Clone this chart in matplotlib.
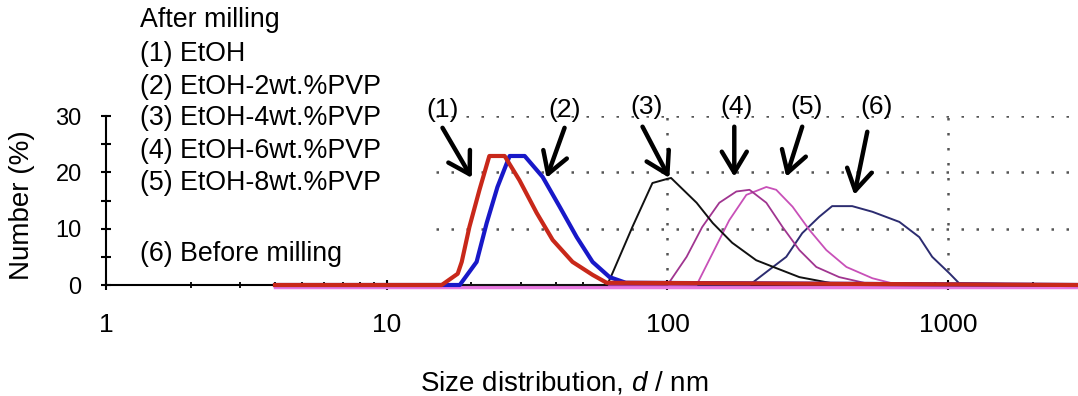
import matplotlib.pyplot as plt
from matplotlib.ticker import FixedLocator, LogLocator, NullFormatter

plt.rcParams['font.family'] = ['Liberation Sans', 'DejaVu Sans']
plt.rcParams['mathtext.fontset'] = 'custom'
plt.rcParams['mathtext.it'] = 'Liberation Sans:italic'
plt.rcParams['mathtext.rm'] = 'Liberation Sans'

# (1) EtOH
x1 = [4, 15.7, 17.9, 18.5, 19.7, 21.4, 23.2, 26.3, 29.7, 34.2, 39.0, 45.9, 54.1, 60.7, 2900]
y1 = [0, 0, 2.0, 4.1, 10.3, 16.9, 22.9, 22.9, 18.6, 12.8, 8.0, 4.1, 1.8, 0.4, 0]
# (2) EtOH-2wt.%PVP
x2 = [4, 18.2, 20.9, 22.7, 24.8, 27.4, 31.0, 35.9, 41.3, 47.5, 54.1, 62.2, 71, 2900]
y2 = [0, 0, 4.1, 11.0, 17.4, 22.9, 22.9, 19.2, 13.9, 8.5, 4.1, 1.4, 0.4, 0]
# (3) EtOH-4wt.%PVP
x3 = [4, 61, 63.7, 75, 88.4, 99.2, 103, 127, 145, 170, 207, 244, 295, 386, 2900]
y3 = [0, 0, 2.1, 10.3, 18.1, 18.8, 19.0, 14.6, 11.0, 7.5, 4.4, 3.0, 1.4, 0.3, 0]
# (4) EtOH-6wt.%PVP
x4 = [4, 100, 117, 133, 153, 176, 196, 225, 257, 295, 339, 409, 511, 2900]
y4 = [0, 0, 5.0, 10.3, 14.6, 16.6, 16.9, 14.6, 10.3, 6.2, 3.2, 1.4, 0.3, 0]
# (5) EtOH-8wt.%PVP
x5 = [4, 127, 145, 166, 191, 225, 244, 279, 320, 368, 434, 537, 632, 2900]
y5 = [0, 0, 5.7, 11.5, 16.0, 17.4, 16.9, 13.9, 9.8, 6.2, 3.2, 1.2, 0.3, 0]
# (6) Before milling
x6 = [4, 196, 225, 265, 302, 347, 386, 455, 537, 670, 789, 877, 1009, 1094, 2900]
y6 = [0, 0, 2.3, 5.0, 9.2, 12.1, 14.0, 14.0, 13.0, 11.2, 8.5, 5.0, 2.1, 0.3, 0]

legend_lines = ['After milling', '(1) EtOH', '(2) EtOH-2wt.%PVP', '(3) EtOH-4wt.%PVP',
                '(4) EtOH-6wt.%PVP', '(5) EtOH-8wt.%PVP', '(6) Before milling']
legend_ypx = [20, 54, 87, 118, 151, 183, 254]

arrow_labels = ['(1)', '(2)', '(3)', '(4)', '(5)', '(6)']
label_pos = [(15.8, 31.1), (43.0, 31.1), (84.2, 31.6), (176, 31.6), (312, 31.6), (554, 31.6)]
arrow_tail = [(15.8, 27.9), (43.0, 27.9), (81.5, 28.1), (173, 28.1), (302, 28.1), (515, 27.2)]
arrow_head = [(20.1, 19.0), (37.1, 19.0), (101.6, 19.0), (173, 19.2), (265, 19.2), (463, 16.0)]

fig = plt.figure(figsize=(10.78, 3.96), dpi=100)
ax = fig.add_axes([106 / 1078, 1 - 285 / 396, 1 - 106 / 1078, 169 / 396])
ax.set_xscale('log')
ax.set_xlim(1, 2900)
ax.set_ylim(0, 30)

# dotted grid
ax.hlines([10, 20, 30], 15, 2900, colors='#555555', linestyles=(0, (1, 5)), lw=1.8)
ax.vlines([100, 1000], 0, 30, colors='#555555', linestyles=(0, (1, 5)), lw=1.8)

# pink glow under baseline
ax.plot([4, 2900], [-0.4, -0.4], color='#e878e0', lw=2.5, clip_on=False, zorder=2)

ax.plot(x6, y6, color='#2c2c70', lw=1.4, clip_on=False, zorder=3)
ax.plot(x5, y5, color='#c850b8', lw=1.3, clip_on=False, zorder=3)
ax.plot(x4, y4, color='#a03590', lw=1.3, clip_on=False, zorder=3)
ax.plot(x3, y3, color='#111111', lw=1.4, clip_on=False, zorder=3)
ax.plot(x2, y2, color='#1818c8', lw=3.0, clip_on=False, zorder=4)
ax.plot(x1, y1, color='#c8281a', lw=3.0, clip_on=False, zorder=5)

for lab, lp, tl, hd in zip(arrow_labels, label_pos, arrow_tail, arrow_head):
    ax.text(lp[0], lp[1], lab, fontsize=19, ha='center', va='center', clip_on=False)
    ax.annotate('', xy=hd, xytext=tl,
                arrowprops=dict(arrowstyle='->, head_length=0.75, head_width=0.45',
                                lw=3.2, color='black', shrinkA=0, shrinkB=0,
                                mutation_scale=20))

for txt, ypx in zip(legend_lines, legend_ypx):
    fig.text(140 / 1078, 1 - ypx / 396, txt, fontsize=19.3, va='center', ha='left')

for s in ['top', 'right']:
    ax.spines[s].set_visible(False)
for s in ['left', 'bottom']:
    ax.spines[s].set_linewidth(1.5)
    ax.spines[s].set_color('black')

ax.xaxis.set_major_locator(FixedLocator([1, 10, 100, 1000]))
ax.set_xticklabels(['1', '10', '100', '1000'])
ax.xaxis.set_minor_locator(LogLocator(base=10, subs=range(2, 10)))
ax.xaxis.set_minor_formatter(NullFormatter())
ax.set_yticks([0, 10, 20, 30])
ax.yaxis.set_minor_locator(FixedLocator([5, 15, 25]))

ax.tick_params(axis='x', which='major', direction='inout', length=7, width=1.5, labelsize=19, pad=17)
ax.tick_params(axis='x', which='minor', direction='inout', length=5, width=1.3)
ax.tick_params(axis='y', which='both', direction='inout', length=7, width=1.5, labelsize=17, pad=14)

ax.set_xlabel('Size distribution, $d$ / nm', fontsize=20)
ax.xaxis.label.set_va('center')
ax.xaxis.set_label_coords((564 - 106) / 972, (285 - 383) / 169)
ax.set_ylabel('Number (%)', fontsize=20)
ax.yaxis.label.set_va('center')
ax.yaxis.set_label_coords((22 - 106) / 972, (285 - 205) / 169)

fig.savefig('out.png', dpi=100)
